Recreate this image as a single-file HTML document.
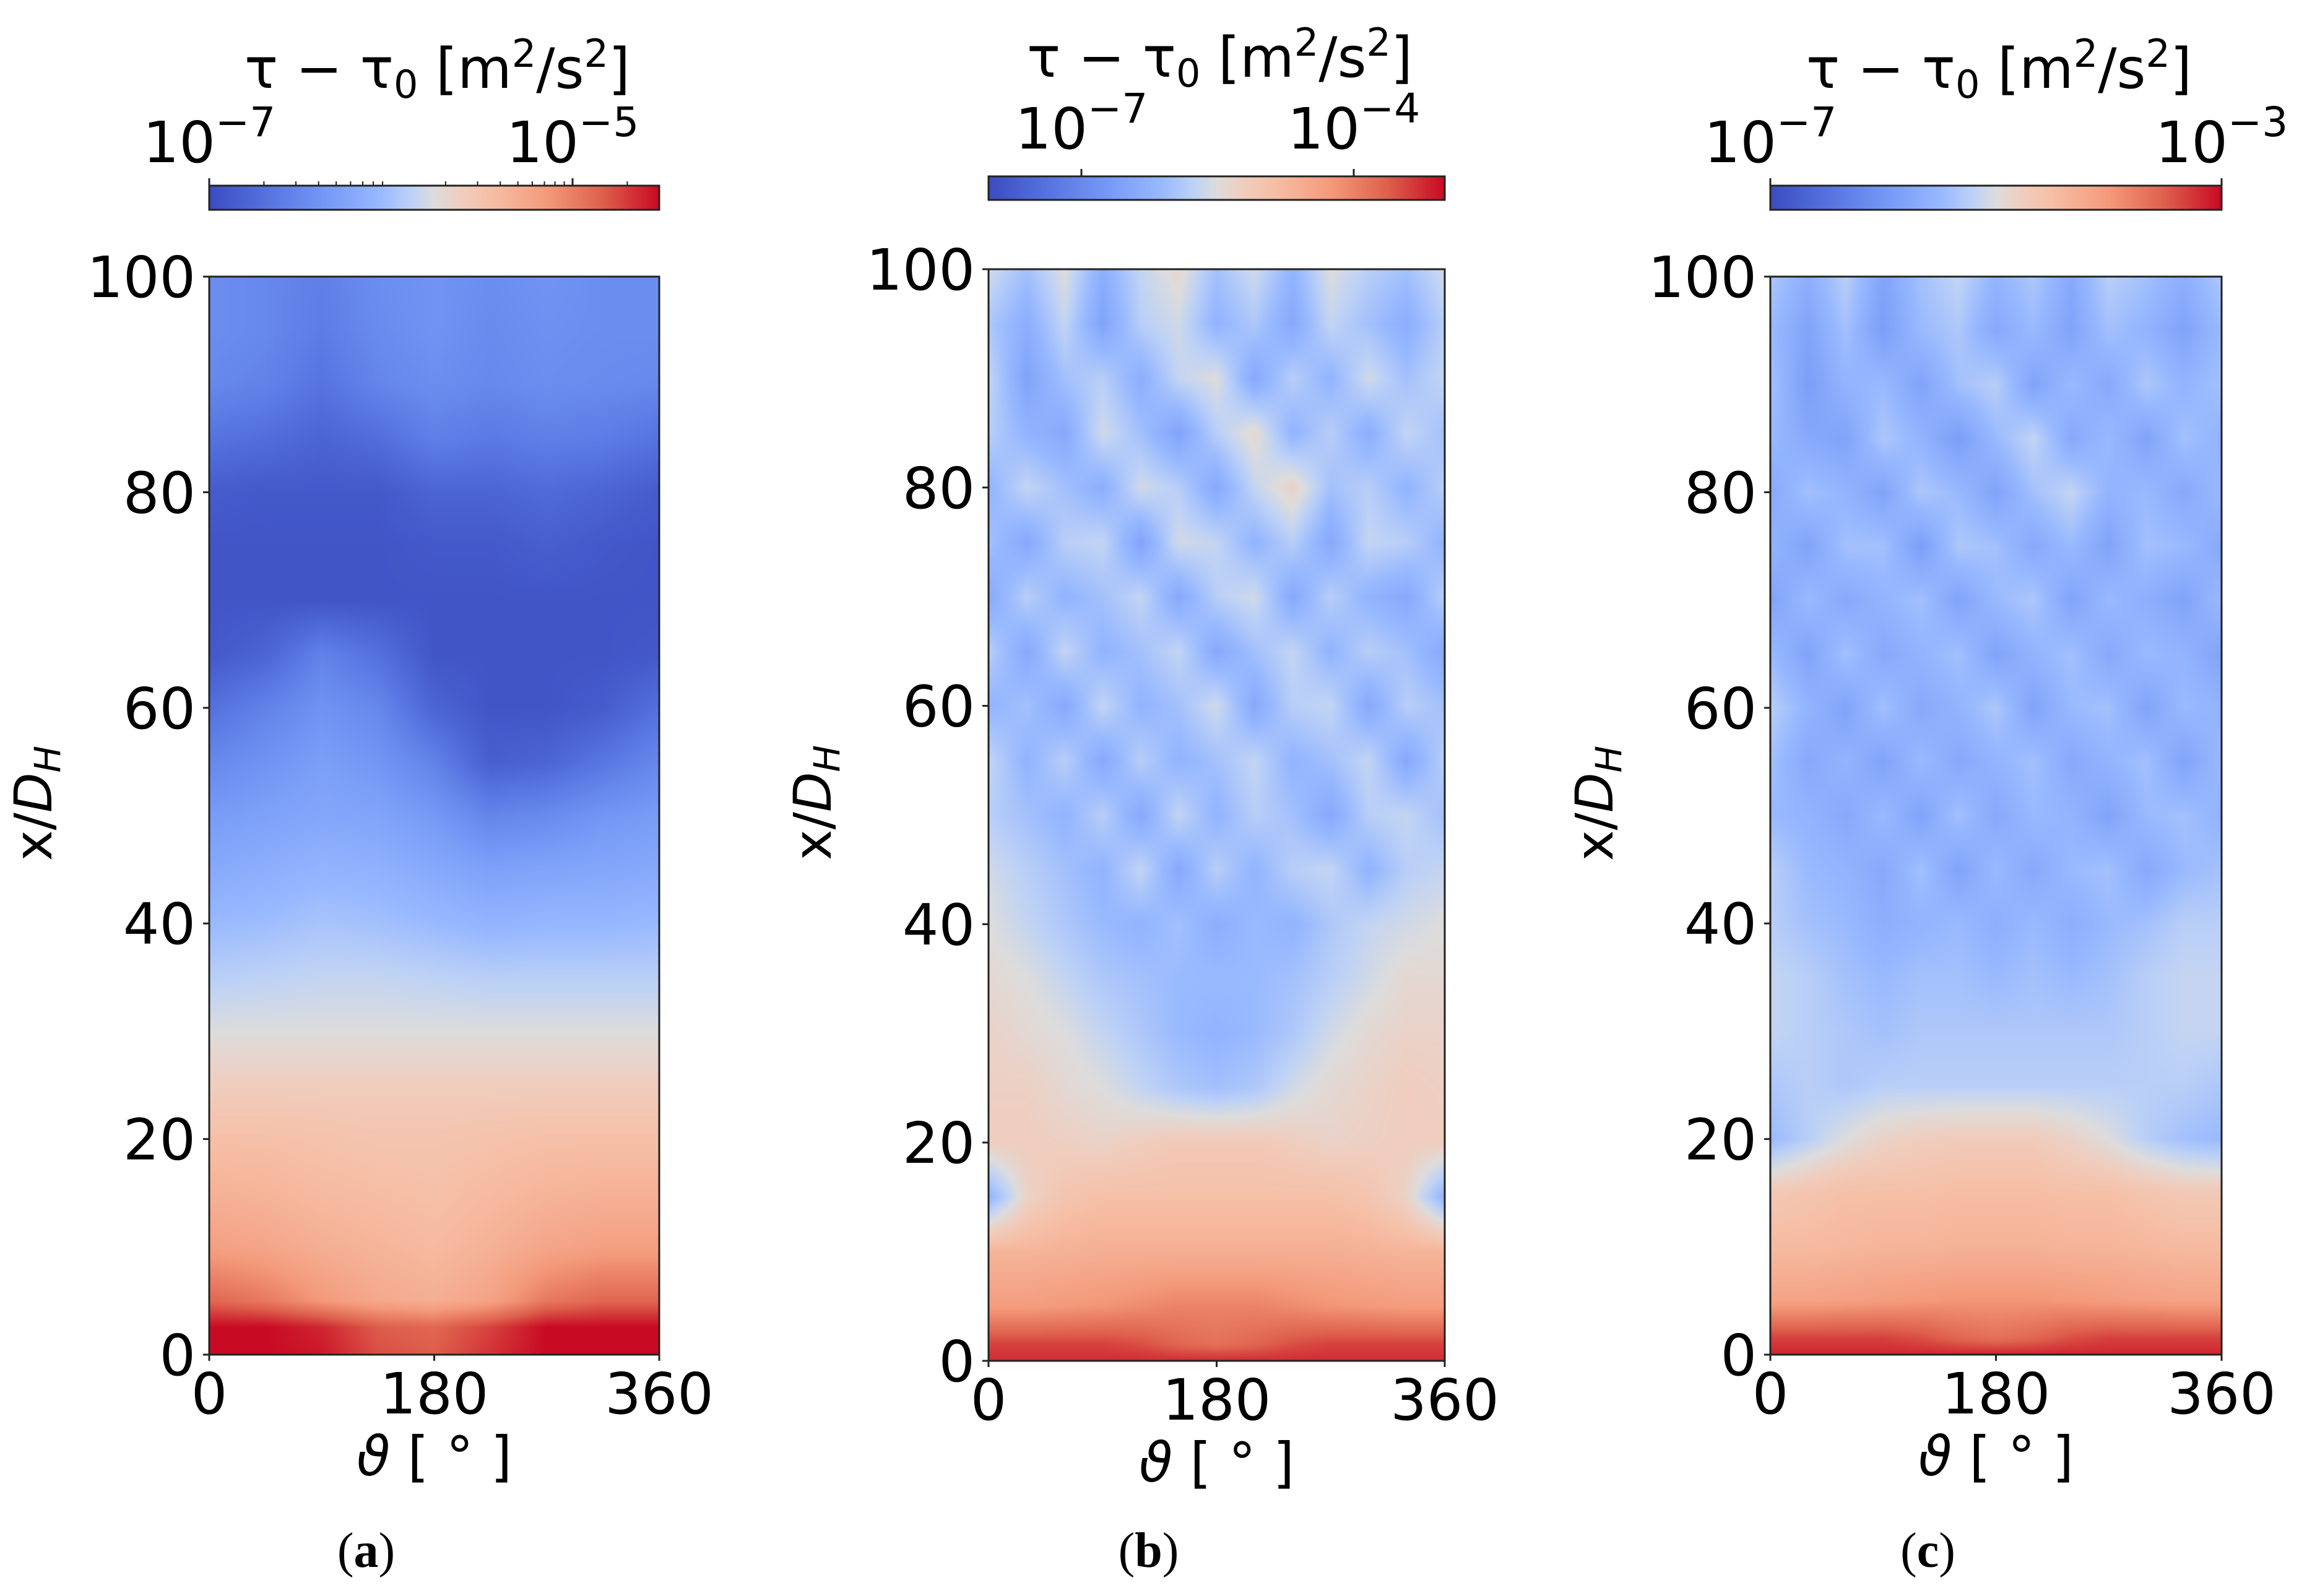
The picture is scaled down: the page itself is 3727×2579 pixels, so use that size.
<!DOCTYPE html>
<html><head><meta charset="utf-8">
<style>
html,body{margin:0;padding:0;background:#fff;}
#root{position:relative;width:3727px;height:2579px;overflow:hidden;background:#fff;font-family:"DejaVu Sans","Liberation Sans",sans-serif;}
canvas{position:absolute;}
svg{position:absolute;left:0;top:0;}
</style></head>
<body>
<div id="root">
<canvas id="hmA"></canvas>
<canvas id="hmB"></canvas>
<canvas id="hmC"></canvas>
<canvas id="cbA"></canvas>
<canvas id="cbB"></canvas>
<canvas id="cbC"></canvas>
<svg id="ov" width="3727" height="2579"></svg>
</div>
<script>
// ---- data ----
const thetaCats = [0,45,90,135,180,225,270,315,360];
const rowsA = [100,95,90,85,80,75,70,65,60,55,50,45,40,35,30,25,20,15,10,5,2.5,0];
const valsA = [
[22,20,17,22,24,22,24,22,22],
[22,20,16,21,24,21,23,22,22],
[20,18,13,19,22,20,22,21,20],
[13,11,8,11,17,15,17,16,13],
[5,4,4,4,8,8,10,8,5],
[3,3,3,3,4,4,6,4,3],
[3,3,3,3,3,3,3,3,3],
[4,8,18,12,3,3,3,3,4],
[12,18,24,20,8,3,3,5,12],
[20,24,28,25,18,6,8,14,20],
[27,29,31,30,26,19,21,25,27],
[32,34,36,35,32,29,30,31,32],
[38,39,41,40,38,36,37,37,38],
[44,45,46,46,45,44,44,44,44],
[50,50,50,50,50,50,50,50,50],
[56,56,56,56,56,56,56,56,56],
[62,62,61,60,60,61,62,62,62],
[67,66,64,63,62,64,66,67,67],
[73,71,68,66,64,67,71,73,73],
[86,82,75,70,68,72,82,86,86],
[100,100,96,88,86,92,100,100,100],
[100,100,98,90,88,94,100,100,100]];
const thetaFine = [0,30,60,90,120,150,180,210,240,270,300,330,360];
const rowsBC = [100,95,90,85,80,75,70,65,60,55,50,45,40,35,30,25,20,15,10,5,1.5,0];
const valsB = [
[48,40,50,34,46,52,40,48,36,50,44,40,48],
[42,34,46,30,44,48,36,42,32,46,40,34,44],
[46,30,40,44,34,46,50,32,44,36,48,40,46],
[44,36,32,48,40,30,44,52,36,44,34,46,40],
[36,46,40,34,48,44,32,46,54,40,44,36,44],
[40,32,44,46,30,48,46,36,44,32,46,44,36],
[32,44,36,40,46,32,44,48,32,44,36,32,44],
[44,32,46,36,40,46,32,40,46,36,44,40,32],
[36,40,32,46,36,40,48,32,44,46,32,44,40],
[46,36,44,32,44,36,40,46,36,40,46,32,44],
[44,40,36,44,32,46,36,44,40,32,44,46,40],
[48,44,40,36,46,32,44,36,44,46,36,44,46],
[50,46,42,38,36,40,34,38,36,42,46,48,50],
[52,50,46,42,40,38,38,38,40,44,48,52,52],
[54,52,50,46,42,38,36,38,42,48,52,54,54],
[55,55,52,50,46,42,40,42,48,52,54,56,55],
[56,56,55,54,56,58,58,58,56,54,55,56,56],
[36,54,60,62,62,62,62,62,62,62,60,54,36],
[66,66,67,68,68,68,68,68,68,68,67,66,66],
[74,74,75,76,78,80,80,80,78,76,75,74,74],
[92,92,92,92,90,86,84,86,90,92,92,92,92],
[95,95,95,95,95,95,95,95,95,95,95,95,95]];
const valsC = [
[42,34,44,30,40,46,36,42,32,44,40,34,42],
[38,30,40,28,38,42,32,38,30,40,36,30,38],
[40,28,36,38,30,40,44,30,38,32,42,36,40],
[38,32,30,42,36,28,38,46,32,38,30,40,36],
[32,40,36,30,42,38,30,40,46,36,38,32,38],
[36,30,40,40,28,42,40,32,38,30,40,38,32],
[30,38,32,36,40,30,38,42,30,38,34,30,38],
[38,30,40,32,36,40,30,36,40,32,38,36,30],
[44,36,30,40,32,36,42,30,38,40,30,38,36],
[40,32,36,30,38,32,36,40,32,36,40,30,38],
[38,36,32,38,30,40,32,38,36,30,38,40,36],
[44,38,36,32,40,30,38,32,38,40,32,38,40],
[44,40,38,34,36,38,34,38,34,38,40,44,44],
[46,44,40,38,40,40,38,40,38,40,44,46,46],
[46,44,42,40,42,42,42,42,42,42,44,46,46],
[42,44,42,44,44,44,44,44,44,44,44,44,42],
[38,44,50,54,56,57,57,57,54,50,44,40,38],
[58,60,62,62,62,63,63,63,62,62,60,58,58],
[64,64,65,66,66,67,67,67,66,66,65,64,64],
[72,72,73,74,75,76,76,76,75,74,73,72,72],
[92,92,92,92,90,86,84,86,90,92,92,92,92],
[96,96,96,96,96,96,96,96,96,96,96,96,96]];
const yTicks = [0,20,40,60,80,100];
const xTicks = [0,180,360];

// ---- colormap (coolwarm-like) ----
const cmStops=[[0,[59,76,192]],[0.125,[85,114,223]],[0.25,[115,150,245]],[0.375,[151,184,255]],[0.45,[190,210,246]],[0.5,[221,220,220]],[0.56,[240,205,190]],[0.625,[246,191,166]],[0.75,[244,154,123]],[0.875,[222,96,77]],[1,[200,10,35]]];
function cmap(t){t=Math.max(0,Math.min(1,t));for(let i=1;i<cmStops.length;i++){if(t<=cmStops[i][0]){const a=cmStops[i-1],b=cmStops[i];const f=(t-a[0])/(b[0]-a[0]);return [0,1,2].map(k=>Math.round(a[1][k]+(b[1][k]-a[1][k])*f));}}return cmStops[cmStops.length-1][1];}
function idx(arr,v,desc){for(let i=0;i<arr.length-1;i++){const a=arr[i],b=arr[i+1];if(desc?(v<=a&&v>=b):(v>=a&&v<=b)){return [i,(v-a)/(b-a)];}}return [arr.length-2,1];}
function drawHeat(id,L,T,W,H,cols,rows,vals){
  const c=document.getElementById(id);c.width=W;c.height=H;c.style.left=L+'px';c.style.top=T+'px';
  const ctx=c.getContext('2d');const img=ctx.createImageData(W,H);
  const xi=[];for(let x=0;x<W;x++){xi.push(idx(cols,x/(W-1)*360,false));}
  for(let y=0;y<H;y++){const yv=100-y/(H-1)*100;const [ri,rf]=idx(rows,yv,true);
    for(let x=0;x<W;x++){const [ci,cf]=xi[x];
      const v=(vals[ri][ci]*(1-cf)+vals[ri][ci+1]*cf)*(1-rf)+(vals[ri+1][ci]*(1-cf)+vals[ri+1][ci+1]*cf)*rf;
      const col=cmap(v/100);const p=(y*W+x)*4;img.data[p]=col[0];img.data[p+1]=col[1];img.data[p+2]=col[2];img.data[p+3]=255;}}
  ctx.putImageData(img,0,0);}
function drawBar(id,L,T,W,H){const c=document.getElementById(id);c.width=W;c.height=H;c.style.left=L+'px';c.style.top=T+'px';
  const ctx=c.getContext('2d');for(let x=0;x<W;x++){const col=cmap(x/(W-1));ctx.fillStyle='rgb('+col.join(',')+')';ctx.fillRect(x,0,1,H);}}

const panels=[
 {id:'A',L:338,T:447,W:727,H:1742,cols:thetaCats,rows:rowsA,vals:valsA,cbT:300,cbH:39,titleY:142,tickY:262,cbl:[[338,'-7'],[925,'-5']],lab:'a',minor:true},
 {id:'B',L:1597,T:435,W:737,H:1764,cols:thetaFine,rows:rowsBC,vals:valsB,cbT:285,cbH:38,titleY:124,tickY:240,cbl:[[1747,'-7'],[2187,'-4']],lab:'b',minor:false},
 {id:'C',L:2860,T:447,W:729,H:1742,cols:thetaFine,rows:rowsBC,vals:valsC,cbT:300,cbH:39,titleY:142,tickY:262,cbl:[[2860,'-7'],[3589,'-3']],lab:'c',minor:false}];
const NS='http://www.w3.org/2000/svg';const ov=document.getElementById('ov');
function mk(tag,attrs,parent){const e=document.createElementNS(NS,tag);for(const k in attrs)e.setAttribute(k,attrs[k]);(parent||ov).appendChild(e);return e;}
panels.forEach(p=>{
  drawHeat('hm'+p.id,p.L,p.T,p.W,p.H,p.cols,p.rows,p.vals);
  drawBar('cb'+p.id,p.L,p.cbT,p.W,p.cbH);
  const g=mk('g',{});
  
  
  const fr=mk('rect',{x:p.L,y:p.T,width:p.W,height:p.H,fill:'none',stroke:'#222','stroke-width':3},g);
  
  
  const cf=mk('rect',{x:p.L,y:p.cbT,width:p.W,height:p.cbH,fill:'none',stroke:'#222','stroke-width':3},g);
  
  
  if(p.minor){const dec=(925-338)/2;[0,1,2].forEach(d=>{[2,3,4,5,6,7,8,9].forEach(m=>{const x=338+dec*(d+Math.log10(m));if(x<p.L+p.W)mk('line',{x1:x,x2:x,y1:p.cbT-7,y2:p.cbT,stroke:'#222','stroke-width':2},g);});});}
  yTicks.forEach(v=>{const y=p.T+p.H-v/100*p.H;
    mk('line',{x1:p.L-10,x2:p.L,y1:y,y2:y,stroke:'#222','stroke-width':3},g);
    const t=mk('text',{x:p.L-22,y:y+33,'text-anchor':'end','font-size':92},g);t.textContent=String(v);
    
    });
  xTicks.forEach(v=>{const x=p.L+v/360*p.W;
    mk('line',{x1:x,x2:x,y1:p.T+p.H,y2:p.T+p.H+10,stroke:'#222','stroke-width':3},g);
    const t=mk('text',{x:x,y:p.T+p.H+95,'text-anchor':'middle','font-size':92},g);t.textContent=String(v);
    
    });
  const xl=mk('text',{x:p.L+p.W/2,y:p.T+p.H+195,'text-anchor':'middle','font-size':88},g);
  xl.innerHTML='<tspan font-style="italic">ϑ</tspan> [ ° ]';
  
  
  const cy=p.T+p.H/2-20, cx=p.L-255;
  const yl=mk('text',{x:cx,y:cy,'text-anchor':'middle','font-size':84,transform:'rotate(-90 '+cx+' '+cy+')'},g);
  yl.innerHTML='x/<tspan font-style="italic">D</tspan><tspan font-style="italic" font-size="58" dy="14">H</tspan>';
  
  
  const tt=mk('text',{x:p.L+p.W/2+5,y:p.titleY,'text-anchor':'middle','font-size':90},g);
  tt.innerHTML='τ − τ<tspan font-size="62" dy="16">0</tspan><tspan dy="-16"> [m</tspan><tspan font-size="62" dy="-34">2</tspan><tspan dy="34">/s</tspan><tspan font-size="62" dy="-34">2</tspan><tspan dy="34">]</tspan>';
  
  
  p.cbl.forEach(([x,e])=>{
    mk('line',{x1:x,x2:x,y1:p.cbT-12,y2:p.cbT,stroke:'#222','stroke-width':3},g);
    const t=mk('text',{x:x,y:p.tickY,'text-anchor':'middle','font-size':92},g);
    t.innerHTML='10<tspan font-size="66" dy="-42">−'+e.slice(1)+'</tspan>';
    
    });
  const sl=mk('text',{x:p.L+p.W/2-110,y:2532,'text-anchor':'middle','font-size':80,'font-family':'Liberation Serif, serif'},g);
  sl.innerHTML='(<tspan font-weight="bold">'+p.lab+'</tspan>)';
  
  
});
</script>
</body></html>
